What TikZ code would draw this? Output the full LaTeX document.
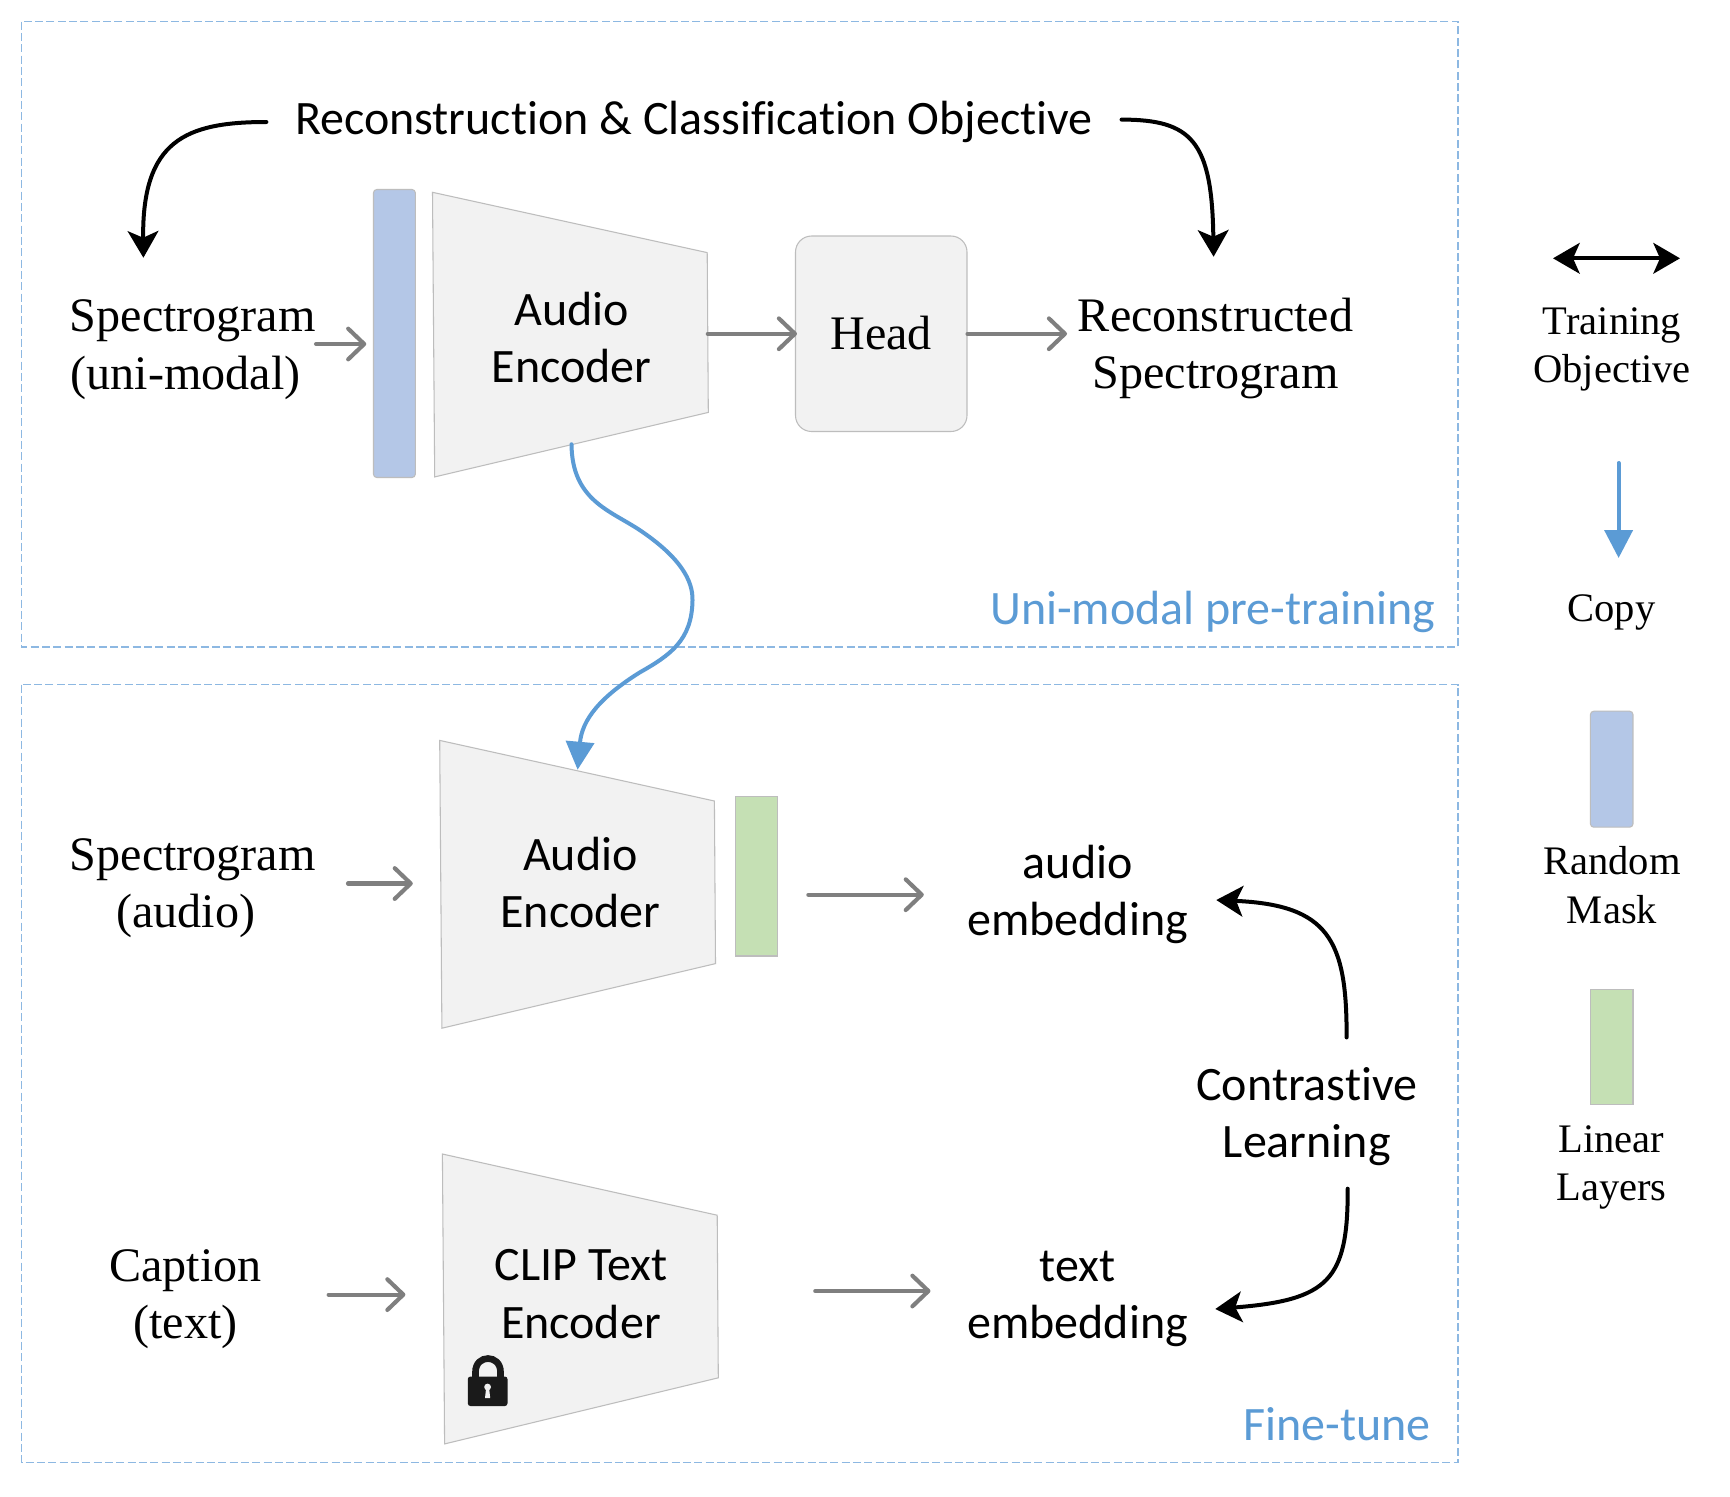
\documentclass[tikz,border=0pt]{standalone}
\usepackage{fontspec}
\setmainfont{Liberation Serif}
\newfontfamily\calib[Ligatures=NoCommon]{Carlito}
\usetikzlibrary{arrows.meta,calc}
\definecolor{cbluebar}{HTML}{B4C7E7}
\definecolor{cgreenbar}{HTML}{C5E0B4}
\definecolor{cpanel}{HTML}{F2F2F2}
\definecolor{cedge}{HTML}{BDBDBD}
\definecolor{cgrayarrow}{HTML}{7F7F7F}
\definecolor{cblue}{HTML}{5B9BD5}
\definecolor{cdash}{HTML}{8DB8E2}
\definecolor{clock}{HTML}{1A1A1A}
\tikzset{
  serifbig/.style={inner sep=0pt,minimum height=82.5pt,align=center,font=\fontsize{36.1}{43.1}\selectfont},
  sansbig/.style={inner sep=0pt,minimum height=82.5pt,align=center,font=\calib\fontsize{36}{43.1}\selectfont},
  legendtext/.style={inner sep=0pt,minimum height=67.5pt,align=center,font=\fontsize{30.4}{36.2}\selectfont},
  panellabel/.style={inner sep=0pt,text=cblue,font=\calib\fontsize{36}{43}\selectfont},
  dashbox/.style={draw=cdash,line width=0.9pt,dash pattern=on 6pt off 2.5pt},
  trap/.style={draw=cedge,fill=cpanel,line width=0.8pt},
  bluebar/.style={draw=cedge,fill=cbluebar,line width=0.8pt,rounded corners=2.5pt,inner sep=0pt},
  greenbar/.style={draw=cedge,fill=cgreenbar,line width=0.8pt,inner sep=0pt},
  grayarrow/.style={draw=cgrayarrow,line width=3.1pt,line cap=round,-{Straight Barb[length=12pt,width=23pt,round]}},
  blackarrow/.style={draw=black,line width=3pt,line cap=round,-{Stealth[length=20pt,width=23pt,inset=5pt]}},
  bothblack/.style={draw=black,line width=3pt,{Stealth[length=20pt,width=23pt,inset=5pt]}-{Stealth[length=20pt,width=23pt,inset=5pt]}},
  bluearrow/.style={draw=cblue,line width=3pt,line cap=round,-{Stealth[length=21pt,width=21pt,inset=0pt]}},
}
\begin{document}
\begin{tikzpicture}[x=0.75pt,y=-0.75pt]
\useasboundingbox (0,0) rectangle (1730,1496);
\fill[white] (0,0) rectangle (1730,1496);
% panels
\draw[dashbox] (21.5,21.5) rectangle (1458,647);
\draw[dashbox] (21.5,684.5) rectangle (1458,1462.5);
\node[panellabel,anchor=center] (lab1) at (1212.8,611.5) {Uni-modal pre-training};
\node[panellabel,anchor=center] (lab2) at (1337.3,1424) {Fine-tune};
% trapezoids
\draw[trap] (432.5,192.3) -- (707.2,252.6) -- (708.3,412.4) -- (434.7,476.9) -- cycle;
\draw[trap] (439.7,740.4) -- (714.4,801) -- (715.5,963.6) -- (441.9,1028.2) -- cycle;
\draw[trap] (442.4,1154) -- (717.2,1215.2) -- (718.3,1377.8) -- (444.6,1443.9) -- cycle;
% upper row
\node[sansbig] (title) at (694,122) {Reconstruction \& Classification Objective};
\node[serifbig] (spec1) at (192.8,349.5) {Spectrogram\\(uni-modal)\rule{10.8pt}{0pt}};
\node[bluebar,minimum width=31.4pt,minimum height=216pt,rounded corners=2.5pt] (bar1) at (394.4,333.5) {};
\node[sansbig,minimum width=207pt,minimum height=208.5pt] (enc1) at (571.5,337.5) {Audio\\Encoder};
\node[draw=cedge,fill=cpanel,line width=0.8pt,rounded corners=12pt,minimum width=128.6pt,minimum height=146.6pt,inner sep=0pt,font=\fontsize{36.1}{43.1}\selectfont] (head) at (881.25,333.75) {\raisebox{1.2pt}{Head}};
\node[serifbig] (recon) at (1215.6,348.5) {Reconstructed\\Spectrogram};
% lower rows
\node[serifbig] (spec2) at (192.8,888) {Spectrogram\\(audio)\rule{10.8pt}{0pt}};
\node[sansbig,minimum width=207pt,minimum height=216pt] (enc2) at (580.4,882.5) {Audio\\Encoder};
\node[greenbar,minimum width=31.8pt,minimum height=119.5pt] (bar2) at (756.6,876.3) {};
\node[sansbig] (aemb) at (1077.7,894.7) {audio\\embedding};
\node[serifbig] (cap) at (185.5,1299) {Caption\\(text)};
\node[sansbig,minimum width=207pt,minimum height=216pt] (enc3) at (581,1294) {CLIP Text\\Encoder};
\node[sansbig] (temb) at (1077.7,1299) {text\\embedding};
\node[sansbig] (cl) at (1306.8,1116.7) {Contrastive\\Learning};
% lock
\draw[clock,line width=5pt] (475.5,1380) -- (475.5,1372) .. controls (475.5,1354) and (500.5,1354) .. (500.5,1372) -- (500.5,1380);
\fill[clock,rounded corners=2pt] (467.8,1376.5) -- (507.5,1376.5) -- (507.5,1406) -- (467.8,1406) -- cycle;
\fill[cpanel] (487.6,1387) circle (3.4) (486,1389) -- (489.2,1389) -- (490.2,1398) -- (485,1398) -- cycle;
% legend
\coordinate (dblL) at (1553,258.3);
\coordinate (dblR) at (1680,258.3);
\draw[bothblack] (dblL) -- (dblR);
\node[legendtext] (ltrain) at (1612,349.5) {Training\\Objective};
\coordinate (copyA) at (1618.6,463);
\coordinate (copyB) at (1618.6,558);
\draw[bluearrow] (copyA) -- (copyB);
\node[legendtext] (lcopy) at (1611.4,612.8) {Copy};
\node[bluebar,minimum width=31.9pt,minimum height=87pt] (lbar1) at (1611.7,769.2) {};
\node[legendtext] (lmask) at (1612,885) {Random\\Mask};
\node[greenbar,minimum width=31.9pt,minimum height=86.5pt] (lbar2) at (1611.7,1047.1) {};
\node[legendtext] (llin) at (1611.4,1167.5) {Linear\\Layers};
% gray connectors
\draw[grayarrow,shorten >=5pt] ([shift={(0,-5.5)}]spec1.east) -- ([shift={(0,-5.5)}]spec1.east -| bar1.west);
\draw[grayarrow,shorten <=-1.5pt] (enc1.east |- head.west) -- ([shift={(2,0)}]head.west);
\draw[grayarrow,shorten >=8pt] (head.east) -- (head.east -| recon.west);
\draw[grayarrow,shorten <=24pt,shorten >=22pt] ([shift={(0,-4.5)}]spec2.east) -- ([shift={(0,-4.5)}]spec2.east -| enc2.west);
\draw[grayarrow,shorten <=22.5pt,shorten >=32.5pt] (bar2.east |- aemb.west) -- (aemb.west);
\draw[grayarrow,shorten <=50pt,shorten >=28pt] ([shift={(0,-4.4)}]cap.east) -- ([shift={(0,-4.4)}]cap.east -| enc3.west);
\draw[grayarrow,shorten <=72pt,shorten >=27.5pt] ([shift={(0,-8)}]enc3.east |- temb.west) -- ([shift={(0,-8)}]temb.west);
% black curved connectors
\draw[blackarrow] ([shift={(-28.5,0)}]title.west) .. controls +(-81,0) and +(-1.5,-117) .. ([shift={(-49.4,-36.5)}]spec1.north);
\draw[blackarrow] ([shift={(28.4,-2.4)}]title.east) .. controls +(70,0) and +(-1.6,-116) .. ([shift={(-2,-36.5)}]recon.north);
\draw[blackarrow] ([shift={(39.8,-24)}]cl.north) .. controls +(0.4,-98) and +(112,5) .. ([shift={(28,5.3)}]aemb.east);
\draw[blackarrow] ([shift={(40.9,16.7)}]cl.south) .. controls +(0.3,92) and +(113,-9) .. ([shift={(27,10)}]temb.east);
% copy connector
\draw[bluearrow] ([shift={(0,-32.5)}]enc1.south) .. controls +(0.5,56) and +(-30,-20) .. ++(68.5,86) .. controls +(40,27) and +(0.5,-20) .. ++(52.5,70) .. controls +(-0.5,40) and +(30,-17) .. ++(-52.5,72) .. controls +(-40,25) and +(4.4,-50) .. ([shift={(-2.8,31.5)}]enc2.north);
\end{tikzpicture}
\end{document}
